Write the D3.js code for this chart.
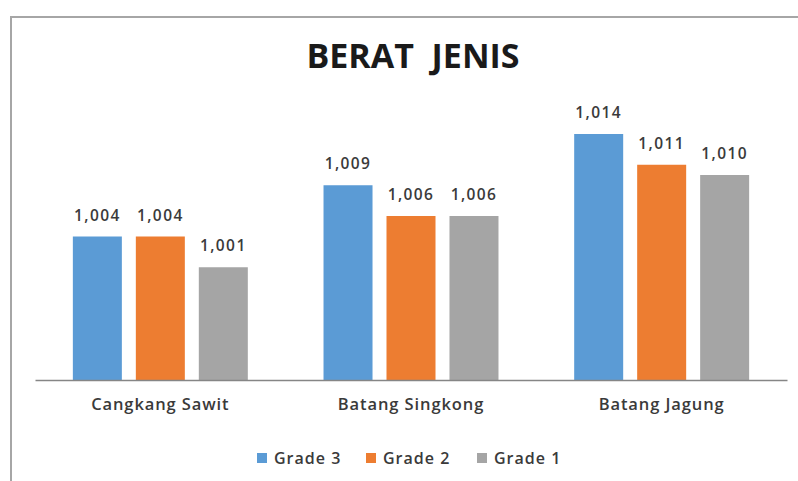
<!DOCTYPE html>
<html>
<head>
<meta charset="utf-8">
<script src="https://cdn.jsdelivr.net/npm/d3@7"></script>
<style>
  html, body { margin: 0; padding: 0; background: #fff; }
  svg { display: block; }
  text { font-family: "Open Sans", "Noto Sans", sans-serif; fill: #3a3a3a; }
</style>
</head>
<body>
<svg id="chart" width="798" height="481"></svg>
<script>
// Specific gravity per material, one array per grade
const categories = ["Cangkang Sawit", "Batang Singkong", "Batang Jagung"];
const seriesNames = ["Grade 3", "Grade 2", "Grade 1"];
const grade3 = [1.004, 1.009, 1.014];
const grade2 = [1.004, 1.006, 1.011];
const grade1 = [1.001, 1.006, 1.010];
const colors = ["#5B9BD5", "#ED7D31", "#A5A5A5"];
const yDomain = [0.990, 1.016];
const title = "BERAT  JENIS";

const seriesValues = [grade3, grade2, grade1];

const svg = d3.select("#chart");

// chart frame (top and left edges)
svg.append("line").attr("x1", 11).attr("x2", 798).attr("y1", 17).attr("y2", 17)
  .attr("stroke", "#a6a6a6").attr("stroke-width", 2);
svg.append("line").attr("x1", 11).attr("x2", 11).attr("y1", 16).attr("y2", 481)
  .attr("stroke", "#a6a6a6").attr("stroke-width", 2);

const plot = { left: 35, right: 787, top: 113.5, bottom: 380 };

const x0 = d3.scaleBand()
  .domain(categories)
  .range([plot.left, plot.right])
  .paddingInner(0.302)
  .paddingOuter(0.151);

const x1 = d3.scaleBand()
  .domain(seriesNames)
  .range([0, x0.bandwidth()])
  .paddingInner(0.222);

const y = d3.scaleLinear().domain(yDomain).range([plot.bottom, plot.top]);

const fmt = v => d3.format(".3f")(v).replace(".", ",");

// title
svg.append("text")
  .attr("x", 413).attr("y", 68)
  .attr("text-anchor", "middle")
  .attr("xml:space", "preserve")
  .style("white-space", "pre")
  .attr("font-size", 34).attr("font-weight", "bold")
  .style("fill", "#1a1a1a")
  .text(title);

// bars
const groups = svg.append("g").selectAll("g")
  .data(categories)
  .join("g")
  .attr("transform", c => `translate(${x0(c)},0)`);

groups.selectAll("rect")
  .data((c, i) => seriesNames.map((s, k) => ({ s, v: seriesValues[k][i], k })))
  .join("rect")
  .attr("x", d => x1(d.s))
  .attr("width", x1.bandwidth())
  .attr("y", d => y(d.v))
  .attr("height", d => y(yDomain[0]) - y(d.v))
  .attr("fill", d => colors[d.k]);

// value labels
groups.selectAll("text.val")
  .data((c, i) => seriesNames.map((s, k) => ({ s, v: seriesValues[k][i], k })))
  .join("text")
  .attr("class", "val")
  .attr("x", d => x1(d.s) + x1.bandwidth() / 2)
  .attr("y", d => y(d.v) - 16)
  .attr("text-anchor", "middle")
  .attr("font-size", 15.5)
  .attr("font-weight", 600)
  .attr("letter-spacing", 1.4)
  .text(d => fmt(d.v));

// category axis
const xAxis = svg.append("g")
  .attr("transform", `translate(0,${plot.bottom})`)
  .call(d3.axisBottom(x0).tickSize(0).tickPadding(18).tickSizeOuter(0));
xAxis.select(".domain").attr("stroke", "#868686").attr("stroke-width", 1.5);
xAxis.selectAll("text")
  .attr("font-size", 16.5)
  .attr("font-weight", 600)
  .attr("letter-spacing", 0.9)
  .style("font-family", "\"Open Sans\", sans-serif")
  .style("fill", "#3a3a3a");

// legend
const legendX = [257, 366, 477];
const legend = svg.append("g").selectAll("g")
  .data(seriesNames)
  .join("g")
  .attr("transform", (d, i) => `translate(${legendX[i]},453)`);
legend.append("rect").attr("width", 10).attr("height", 10)
  .attr("fill", (d, i) => colors[i]);
legend.append("text").attr("x", 17).attr("y", 11)
  .attr("font-size", 16)
  .attr("font-weight", 600)
  .attr("letter-spacing", 1)
  .text(d => d);
</script>
</body>
</html>
